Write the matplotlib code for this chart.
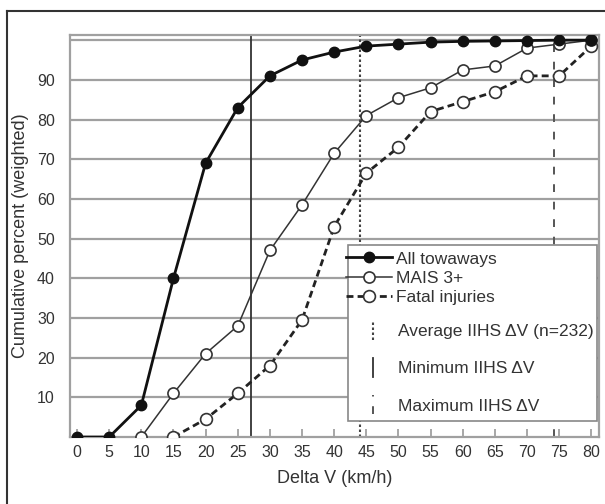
import matplotlib
matplotlib.use("Agg")
import matplotlib.pyplot as plt
from matplotlib.lines import Line2D
from matplotlib.legend_handler import HandlerBase
from matplotlib.patches import Rectangle

plt.rcParams['font.family'] = ['Liberation Sans', 'DejaVu Sans']

# data
speed = [0, 5, 10, 15, 20, 25, 30, 35, 40, 45, 50, 55, 60, 65, 70, 75, 80]
towaways = [0, 0, 8, 40, 69, 83, 91, 95, 97, 98.5, 99, 99.5, 99.7, 99.8, 99.9, 100, 100]
mais_x = [10, 15, 20, 25, 30, 35, 40, 45, 50, 55, 60, 65, 70, 75, 80]
mais = [0, 11, 21, 28, 47, 58.5, 71.5, 81, 85.5, 88, 92.5, 93.5, 98, 99, 100]
fatal_x = [15, 20, 25, 30, 35, 40, 45, 50, 55, 60, 65, 70, 75, 80]
fatal = [0, 4.5, 11, 18, 29.5, 53, 66.5, 73, 82, 84.5, 87, 91, 91, 98.5]
iihs_avg = 44
iihs_min = 27
iihs_max = 74.2

xticks = list(range(0, 85, 5))
yticks = list(range(10, 100, 10))

txt = '#333333'
grey = '#a0a0a0'


class VLineHandler(HandlerBase):
    def create_artists(self, legend, orig_handle, xdescent, ydescent,
                       width, height, fontsize, trans):
        x = -xdescent + width * 0.15
        ln = Line2D([x, x], [-ydescent, height - ydescent])
        ln.update_from(orig_handle)
        ln.set_transform(trans)
        return [ln]


fig = plt.figure(figsize=(6.05, 5.04), dpi=100)
ax = fig.add_axes([70/605, (504-437)/504, 529/605, 402/504])

ax.set_xlim(-1.1, 81.2)
ax.set_ylim(0, 101.3)
for y in yticks + [100]:
    ax.axhline(y, color=grey, lw=1.6, zorder=1)

l_avg = ax.axvline(iihs_avg, color='#444444', lw=1.5, ls=(0, (1.2, 1.2)), zorder=2)
l_min = ax.axvline(iihs_min, color='#333333', lw=1.3, zorder=2)
l_max = ax.axvline(iihs_max, color='#555555', lw=1.4, ls=(0, (4, 5)), zorder=2)

h1, = ax.plot(speed, towaways, '-o', color='#111111', lw=2.0, ms=7.5,
              mfc='#111111', mec='#111111', zorder=5)
h2, = ax.plot(mais_x, mais, '-o', color='#333333', lw=1.1, ms=8,
              mfc='white', mec='#333333', mew=1.2, zorder=4)
h3, = ax.plot(fatal_x, fatal, '-o', color='#222222', lw=2.0, ls=(0, (2.5, 1.5)),
              ms=8.5, mfc='white', mec='#333333', mew=1.2, zorder=3)

ax.set_xticks(xticks)
ax.set_yticks(yticks)
ax.tick_params(axis='x', direction='in', length=6, width=1.3, color=grey,
               labelsize=11.5, labelcolor=txt, pad=6)
ax.tick_params(axis='y', length=0, labelsize=11.5, labelcolor=txt, pad=11)
for s in ax.spines.values():
    s.set_color(grey)
    s.set_linewidth(1.6)

ax.set_xlabel('Delta V (km/h)', fontsize=13, color=txt, labelpad=7)
ax.set_ylabel('Cumulative percent (weighted)', fontsize=13, color=txt, labelpad=6)

# legend: frame plus two stacked legends
ax.add_patch(Rectangle((0.526, 0.04), 0.47, 0.438, transform=ax.transAxes,
                       fc='white', ec='#888888', lw=1.2, zorder=6))
leg1 = ax.legend([h1, h2, h3], ['All towaways', 'MAIS 3+', 'Fatal injuries'],
                 loc='upper left', bbox_to_anchor=(0.5085, 0.479), frameon=False,
                 fontsize=12.5, handlelength=2.65, handletextpad=0.23,
                 labelspacing=0.23, borderaxespad=0, labelcolor=txt)
leg1.set_zorder(7)
ax.add_artist(leg1)
leg2 = ax.legend([l_avg, l_min, l_max],
                 ['Average IIHS \u0394V (n=232)', 'Minimum IIHS \u0394V', 'Maximum IIHS \u0394V'],
                 loc='upper left', bbox_to_anchor=(0.5527, 0.3067), frameon=False,
                 fontsize=12.5, handlelength=1.4, handleheight=1.3, handletextpad=0.23,
                 labelspacing=1.06, borderaxespad=0, labelcolor=txt,
                 handler_map={Line2D: VLineHandler()})
leg2.set_zorder(7)

# outer frame of the figure (left and top edges)
fig.add_artist(Line2D([7/605, 7/605], [0, 1 - 11/504], color='#333333', lw=1.5))
fig.add_artist(Line2D([7/605, 1], [1 - 11/504, 1 - 11/504], color='#333333', lw=1.5))

fig.savefig('out.png', dpi=100)
